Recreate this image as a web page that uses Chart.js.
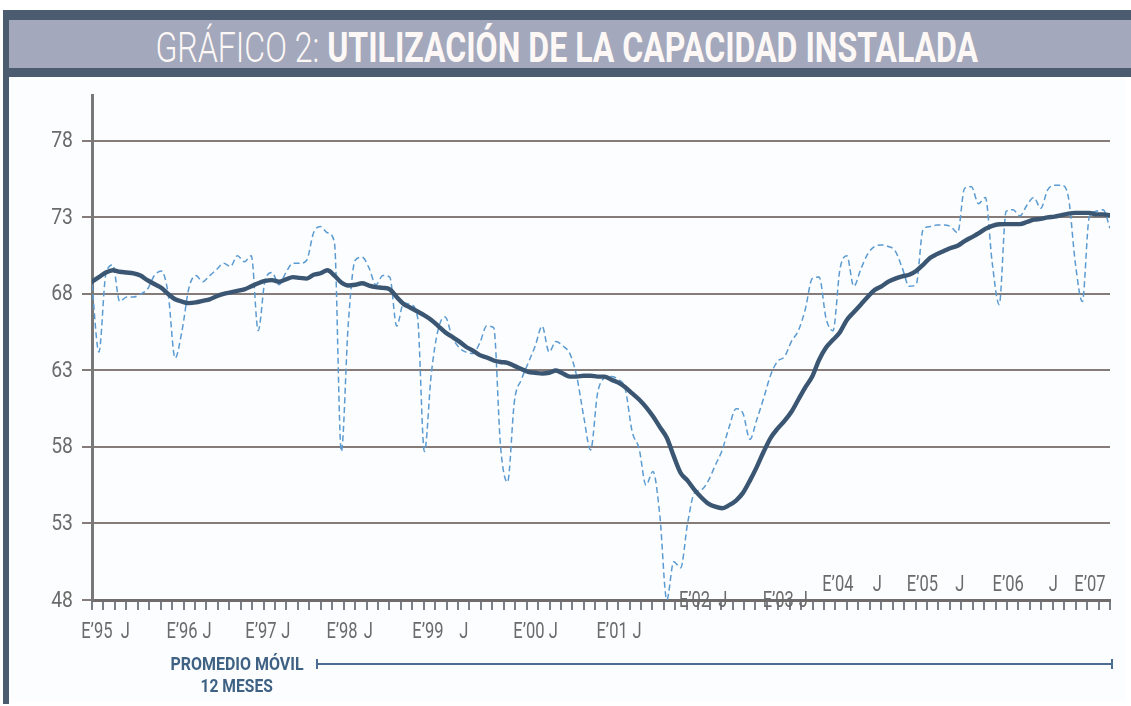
<!DOCTYPE html>
<html><head><meta charset="utf-8">
<script src="https://cdn.jsdelivr.net/npm/chart.js@4/dist/chart.umd.min.js"></script>
<style>
html,body{margin:0;padding:0;background:#fff;}
#wrap{position:relative;width:1131px;height:706px;overflow:hidden;background:#fff;}
#bg{position:absolute;left:9px;top:77px;width:1116px;height:624px;background:#fcfdfe;}
.band{position:absolute;background:#4b5b70;}
#titlebar{position:absolute;left:9px;top:20px;width:1122px;height:48px;background:#a3a8bc;}
#title{position:absolute;left:0;top:24px;width:1133px;height:48px;display:flex;align-items:center;justify-content:center;}
#title span.t{display:inline-block;white-space:nowrap;font-family:Roboto,"Liberation Sans",sans-serif;font-size:42px;line-height:48px;color:#fdf8f6;transform-origin:center;}
#title .l{font-weight:300;}
#title .b{font-weight:700;}
canvas{position:absolute;left:0;top:0;}
.legbox{position:absolute;left:137px;width:200px;height:24px;display:flex;align-items:center;justify-content:center;}
.legbox span{display:inline-block;white-space:nowrap;font-family:Roboto,"Liberation Sans",sans-serif;font-weight:700;font-size:18px;line-height:24px;color:#3f6284;transform-origin:center;}
#legline{position:absolute;left:317px;top:663px;width:796px;height:2px;background:#4b6d91;}
.cap{position:absolute;width:2px;height:10px;top:659px;background:#4b6d91;}
</style>
</head>
<body>
<div id="wrap">
  <div id="bg"></div>
  <div class="band" style="left:3px;top:10px;width:1128px;height:10px;"></div>
  <div id="titlebar"></div>
  <div class="band" style="left:3px;top:68px;width:1128px;height:9px;"></div>
  <div class="band" style="left:3px;top:10px;width:6px;height:694px;"></div>
  <div id="title"><span class="t" id="titletext"><span class="l">GRÁFICO 2:</span> <span class="b">UTILIZACIÓN DE LA CAPACIDAD INSTALADA</span></span></div>
  <canvas id="c" width="1131" height="706"></canvas>
  <div class="legbox" style="top:652px;"><span id="leg1">PROMEDIO MÓVIL</span></div>
  <div class="legbox" style="top:674px;"><span id="leg2">12 MESES</span></div>
  <div id="legline"></div>
  <div class="cap" style="left:316px;"></div>
  <div class="cap" style="left:1111px;"></div>
</div>
<script>
// ---- DATA (monthly, Jan 1995 .. Apr 2007) ----
const months = [];
for (let y = 1995; y <= 2007; y++) {
  for (let mo = 1; mo <= 12; mo++) {
    if (y === 2007 && mo > 4) break;
    months.push(y + '-' + String(mo).padStart(2, '0'));
  }
}

// Utilización mensual (dashed line)
const rawSeries = [
  68.6, 64.2, 69.3, 69.9, 67.5, 67.8, 67.8, 68.0, 68.3, 69.2, 69.5, 68.0,
  63.8, 65.6, 68.4, 69.2, 68.8, 69.2, 69.6, 70.0, 69.8, 70.5, 70.1, 70.5,
  65.6, 68.9, 69.4, 68.6, 69.4, 70.0, 70.0, 70.2, 72.0, 72.4, 72.0, 71.4,
  57.7, 66.0, 70.2, 70.4, 69.7, 68.6, 69.2, 69.1, 65.9, 67.4, 67.3, 66.5,
  57.7, 62.8, 65.7, 66.5, 65.2, 64.5, 64.2, 64.1, 64.8, 65.9, 65.8, 58.0,
  55.7, 61.0, 62.4, 63.5, 64.6, 65.9, 64.2, 64.9, 64.6, 64.1, 62.6, 60.0,
  57.8, 61.5, 62.5, 62.6, 62.4, 61.8, 59.0, 57.9, 55.5, 56.4, 53.5, 48.0,
  50.5, 50.1, 53.0, 55.0, 55.2, 55.8, 56.8, 57.8, 59.3, 60.5, 60.2, 58.5,
  59.8, 61.2, 62.7, 63.6, 63.9, 64.9, 65.6, 67.0, 69.0, 69.1, 66.4, 65.6,
  69.6, 70.5, 68.5, 69.6, 70.6, 71.1, 71.2, 71.1, 70.8, 69.7, 68.5, 68.6,
  72.2, 72.4, 72.5, 72.5, 72.4, 72.0, 74.9, 75.0, 73.9, 74.3, 70.0, 67.3,
  73.4, 73.5, 73.1, 73.8, 74.3, 73.6, 74.8, 75.1, 75.1, 74.3, 70.0, 67.5,
  73.0, 73.4, 73.5, 72.3
];

// Promedio móvil 12 meses (thick line)
const movingAvg = [
  68.8, 69.1, 69.4, 69.55, 69.45, 69.4, 69.35, 69.2, 68.9, 68.65, 68.4, 68.0,
  67.65, 67.5, 67.4, 67.45, 67.55, 67.65, 67.85, 68.0, 68.1, 68.2, 68.3, 68.5,
  68.7, 68.85, 68.9, 68.8, 68.95, 69.1, 69.05, 69.0, 69.25, 69.35, 69.55, 69.2,
  68.75, 68.55, 68.6, 68.7, 68.55, 68.45, 68.4, 68.3, 67.8, 67.35, 67.1, 66.85,
  66.6, 66.3, 65.9, 65.5, 65.2, 64.9, 64.55, 64.3, 64.0, 63.85, 63.65, 63.55,
  63.5, 63.3, 63.1, 62.9, 62.85, 62.8, 62.85, 63.0, 62.8, 62.6, 62.6, 62.65,
  62.65, 62.6, 62.6, 62.4, 62.2, 61.9, 61.5, 61.1, 60.6, 60.0, 59.3, 58.6,
  57.4, 56.3, 55.8, 55.2, 54.7, 54.3, 54.1, 54.0, 54.2, 54.5, 55.0, 55.8,
  56.7, 57.7, 58.6, 59.2, 59.7, 60.3, 61.1, 61.9, 62.6, 63.7, 64.5, 65.0,
  65.5, 66.3, 66.8, 67.3, 67.8, 68.25, 68.5, 68.8, 69.0, 69.15, 69.25, 69.5,
  69.9, 70.35, 70.6, 70.8, 71.0, 71.15, 71.45, 71.7, 71.95, 72.25, 72.45, 72.55,
  72.56, 72.56, 72.56, 72.7, 72.85, 72.9, 73.0, 73.05, 73.15, 73.25, 73.3, 73.3,
  73.3, 73.2, 73.2, 73.15
];

// Tick labels
const yTickValues = [48, 53, 58, 63, 68, 73, 78];
const xTickLabels = ["E’95","J","E’96","J","E’97","J","E’98","J","E’99","J","E’00","J","E’01","J",
                     "E’02","J","E’03","J","E’04","J","E’05","J","E’06","J","E’07"];
// month index (data units) at which each label is centred
const xTickLabelAt = [0.7,4.8,13.0,16.6,24.4,28.0,36.1,39.9,48.5,53.7,63.1,66.6,75.1,78.7,
                      87.0,91.1,99.1,102.7,107.7,113.4,119.9,125.3,132.3,138.8,144.1];
const xMinorTickCount = 90;

// ---- helpers ----
function fitX(el, target) {
  const w = el.offsetWidth;
  el.style.transform = 'scaleX(' + (target / w).toFixed(4) + ')';
}
fitX(document.getElementById('titletext'), 823);
fitX(document.getElementById('leg1'), 133);
fitX(document.getElementById('leg2'), 72);

function drawCondensed(ctx, text, x, y, sx) {
  ctx.save();
  ctx.translate(x, y);
  ctx.scale(sx, 1);
  ctx.fillText(text, 0, 0);
  ctx.restore();
}

const labelPlugin = {
  id: 'axisLabels',
  afterDraw(chart) {
    const ctx = chart.ctx, xs = chart.scales.x, ys = chart.scales.y;
    const bottom = chart.chartArea.bottom;
    ctx.save();
    ctx.fillStyle = '#6b6b6b';
    ctx.textBaseline = 'middle';
    ctx.font = '400 22px Roboto, "Liberation Sans", sans-serif';
    ctx.textAlign = 'right';
    yTickValues.forEach(v => drawCondensed(ctx, String(v), 73, ys.getPixelForValue(v) + 1, 0.88));
    ctx.font = '400 22px Roboto, "Liberation Sans", sans-serif';
    ctx.textAlign = 'center';
    let year = 1995;
    xTickLabels.forEach((t, i) => {
      const m = /(\d\d)$/.exec(t);
      if (m) { const yy = parseInt(m[1], 10); year = yy > 50 ? 1900 + yy : 2000 + yy; }
      let y;
      if (year <= 2001) y = bottom + 32;
      else if (year <= 2003) y = bottom + 1;
      else y = bottom - 15;
      drawCondensed(ctx, t, xs.getPixelForValue(xTickLabelAt[i]), y, 0.75);
    });
    ctx.restore();
  }
};

const lastIdx = months.length - 1;
new Chart(document.getElementById('c'), {
  type: 'line',
  data: {
    datasets: [
      {
        label: 'Promedio móvil 12 meses',
        data: movingAvg.map((v, i) => ({ x: i, y: v })),
        borderColor: '#3a5672',
        borderWidth: 4.4,
        pointRadius: 0,
        cubicInterpolationMode: 'monotone',
        borderCapStyle: 'round',
        borderJoinStyle: 'round',
        order: 1
      },
      {
        label: 'Utilización mensual',
        data: rawSeries.map((v, i) => ({ x: i, y: v })),
        borderColor: '#5b9bd1',
        borderWidth: 1.5,
        borderDash: [6, 3.5],
        pointRadius: 0,
        cubicInterpolationMode: 'monotone',
        order: 2
      }
    ]
  },
  options: {
    responsive: false,
    devicePixelRatio: 1,
    animation: false,
    layout: { padding: { left: 0, right: 21, top: 95, bottom: 96 } },
    plugins: { legend: { display: false }, tooltip: { enabled: false }, title: { display: false } },
    scales: {
      x: {
        type: 'linear',
        min: 0,
        max: lastIdx,
        grid: { display: true, drawOnChartArea: false, drawTicks: true, tickLength: 10, color: '#7b8088', lineWidth: 2 },
        border: { display: true, color: '#706c6c', width: 3 },
        ticks: { display: false, autoSkip: false },
        afterBuildTicks: s => {
          s.ticks = Array.from({ length: xMinorTickCount }, (_, i) => ({ value: i * lastIdx / (xMinorTickCount - 1) }));
        },
        afterFit: s => { s.height = 10; }
      },
      y: {
        min: 48,
        max: 81,
        grid: { color: '#857c7a', lineWidth: 2, tickLength: 10, drawTicks: true },
        border: { display: true, color: '#787878', width: 3 },
        ticks: { display: false },
        afterBuildTicks: s => { s.ticks = yTickValues.map(v => ({ value: v })); },
        afterFit: s => { s.width = 92; }
      }
    }
  },
  plugins: [labelPlugin]
});
</script>
</body></html>
